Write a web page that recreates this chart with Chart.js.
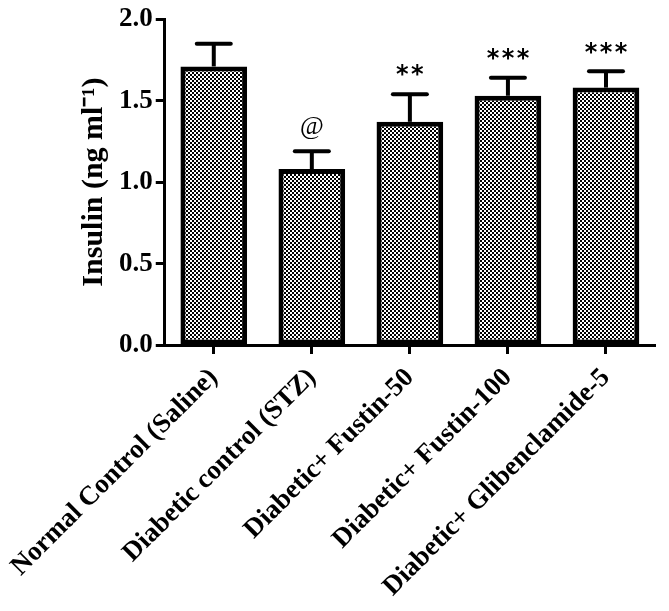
<!DOCTYPE html>
<html lang="en">
<head>
    <meta charset="UTF-8">
    <title>Insulin</title>
    <script src="https://cdn.jsdelivr.net/npm/chart.js"></script>
    <style>
        body { margin: 0; background: #fff; }
        #wrap { width: 669px; height: 611px; }
    </style>
</head>
<body>
    <div id="wrap"><canvas id="insulinChart" width="669" height="611"></canvas></div>
    <script>
// data
const groups = ['Normal Control (Saline)', 'Diabetic control (STZ)', 'Diabetic+ Fustin-50', 'Diabetic+ Fustin-100', 'Diabetic+ Glibenclamide-5'];
const insulin = [1.71, 1.08, 1.37, 1.53, 1.58];
const sem = [0.14, 0.11, 0.17, 0.11, 0.10];
const marks = ['', '@', '**', '***', '***'];
const yTicks = [0, 0.5, 1.0, 1.5, 2.0];

// checker fill like the printed bars
function checker() {
    const c = document.createElement('canvas');
    c.width = 4; c.height = 4;
    const g = c.getContext('2d');
    g.fillStyle = '#fff';
    g.fillRect(0, 0, 4, 4);
    g.fillStyle = '#000';
    g.fillRect(0, 0, 2, 2);
    g.fillRect(2, 2, 2, 2);
    return g.createPattern(c, 'repeat');
}

// error bars + significance marks
const extras = {
    id: 'extras',
    afterDatasetsDraw(chart) {
        const ctx = chart.ctx;
        const meta = chart.getDatasetMeta(0);
        const y = chart.scales.y;
        ctx.save();
        ctx.strokeStyle = '#000';
        ctx.fillStyle = '#000';
        meta.data.forEach((bar, i) => {
            const top = y.getPixelForValue(insulin[i]);
            const hi = y.getPixelForValue(insulin[i] + sem[i]);
            ctx.lineWidth = 4;
            ctx.beginPath();
            ctx.moveTo(bar.x, top);
            ctx.lineTo(bar.x, hi);
            ctx.stroke();
            ctx.lineCap = 'round';
            ctx.beginPath();
            ctx.moveTo(bar.x - 17, hi);
            ctx.lineTo(bar.x + 17, hi);
            ctx.stroke();
            ctx.lineCap = 'butt';
            const m = marks[i];
            if (!m) return;
            ctx.textAlign = 'center';
            ctx.textBaseline = 'middle';
            if (m === '@') {
                ctx.font = 'italic 26px "Liberation Serif"';
                ctx.fillText(m, bar.x, hi - 24);
            } else {
                ctx.font = 'bold 24px "DejaVu Sans"';
                const gap = 15;
                for (let k = 0; k < m.length; k++) {
                    ctx.fillText('*', bar.x + (k - (m.length - 1) / 2) * gap, hi - 18);
                }
            }
        });
        ctx.restore();
    }
};

const serif = '"Liberation Serif", "Times New Roman", serif';

new Chart(document.getElementById('insulinChart'), {
    type: 'bar',
    data: {
        labels: groups,
        datasets: [{
            data: insulin,
            backgroundColor: checker(),
            borderColor: '#000',
            borderWidth: 5,
            borderSkipped: false,
            categoryPercentage: 0.68,
            barPercentage: 1
        }]
    },
    options: {
        responsive: false,
        animation: false,
        layout: { padding: { top: 10, right: 14, left: 76, bottom: 0 } },
        plugins: { legend: { display: false }, tooltip: { enabled: false } },
        scales: {
            x: {
                afterFit(scale) {
                    scale.height = 266;
                    scale.paddingLeft = 0;
                    scale.paddingRight = 0;
                },
                grid: { display: true, drawOnChartArea: false, offset: false, tickLength: 9, tickWidth: 3, tickColor: '#000' },
                border: { color: '#000', width: 3 },
                ticks: {
                    color: '#000',
                    font: { family: serif, size: 27, weight: 'bold' },
                    maxRotation: 45, minRotation: 45, padding: 8
                }
            },
            y: {
                min: 0, max: 2,
                afterBuildTicks(scale) { scale.ticks = yTicks.map(v => ({ value: v })); },
                grid: { display: true, drawOnChartArea: false, tickLength: 9, tickWidth: 3, tickColor: '#000' },
                border: { color: '#000', width: 3 },
                ticks: {
                    color: '#000',
                    font: { family: serif, size: 27, weight: 'bold' },
                    padding: 3,
                    callback: v => v.toFixed(1)
                },
                title: {
                    display: true,
                    text: 'Insulin (ng ml⁻¹)',
                    color: '#000',
                    font: { family: serif, size: 30, weight: 'bold' },
                    padding: { top: 0, bottom: 4 }
                }
            }
        }
    },
    plugins: [extras]
});
    </script>
</body>
</html>
